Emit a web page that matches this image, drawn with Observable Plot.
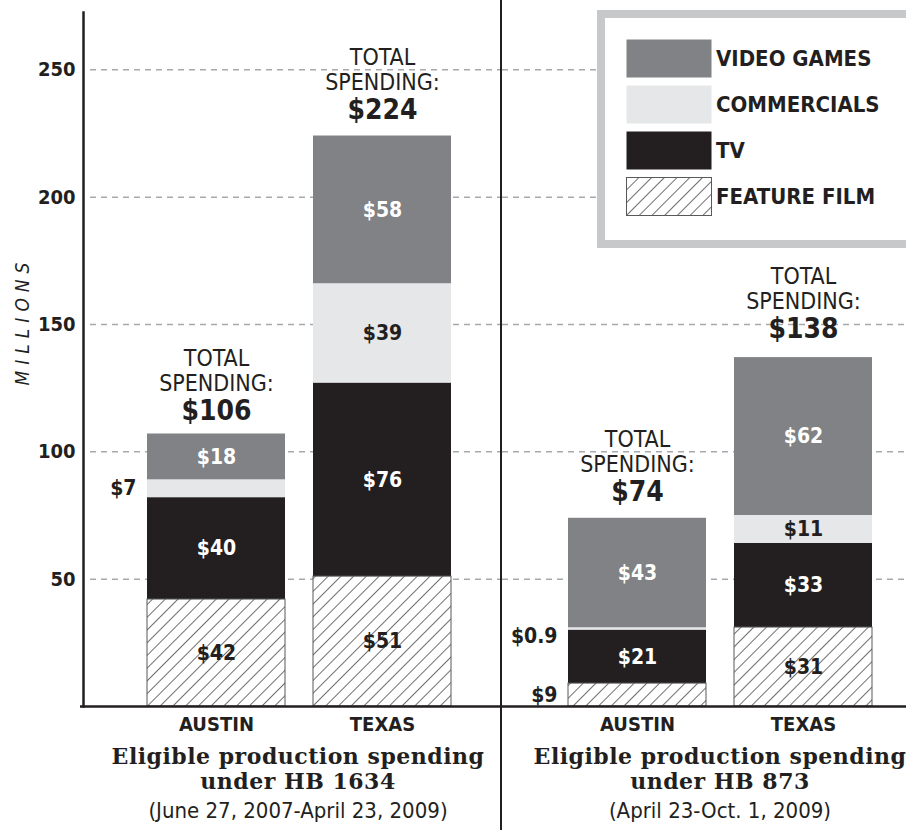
<!DOCTYPE html>
<html>
<head>
<meta charset="utf-8">
<script src="https://cdn.jsdelivr.net/npm/d3@7"></script>
<script src="https://cdn.jsdelivr.net/npm/@observablehq/plot@0.6"></script>
<style>
  :root { --cond: "Liberation Sans Narrow", "DejaVu Sans Condensed", "Roboto Condensed", "Open Sans", sans-serif; }
  body { margin: 0; background: #fff; }
  #wrap { position: relative; width: 906px; height: 830px; display: flex; overflow: hidden; color: #231f20;
          font-family: var(--cond); font-stretch: condensed; }
  .panel { position: relative; height: 830px; }
  #p1 { width: 500px; }
  #p2 { width: 404px; border-left: 2px solid #231f20; }
  .ttl { position: absolute; transform: translateX(-50%); text-align: center; white-space: nowrap; }
  .ttl .a { font-family: "DejaVu Serif", serif; font-stretch: normal; font-weight: bold; font-size: 22px; letter-spacing: 0.5px; line-height: 25px; }
  .ttl .b { font-family: var(--cond); font-stretch: condensed; font-size: 22px; line-height: 28px; margin-top: 3px; }
  #legend { position: absolute; left: 597px; top: 10px; width: 320px; height: 238px; box-sizing: border-box;
            border: 8px solid #c7c8ca; background: #fff; }
  .lg-row { position: absolute; left: 21px; height: 39px; display: flex; align-items: center; }
  .lg-sw { width: 86px; height: 39px; margin-right: 4px; box-sizing: border-box; }
  .lg-lab { font-weight: bold; font-size: 22px; white-space: nowrap; }
  #ylab { position: absolute; left: 22px; top: 321px; transform: translate(-50%, -50%) rotate(-90deg);
          font-style: italic; font-size: 19px; letter-spacing: 6px; white-space: nowrap; }
</style>
</head>
<body>
<svg width="0" height="0" style="position:absolute">
  <defs>
    <pattern id="hatch" patternUnits="userSpaceOnUse" width="9" height="9" patternTransform="rotate(45)">
      <rect width="9" height="9" fill="#fff"></rect>
      <line x1="0" y1="0" x2="0" y2="9" stroke="#231f20" stroke-width="1.3"></line>
    </pattern>
  </defs>
</svg>
<div id="wrap">
  <div class="panel" id="p1"></div>
  <div class="panel" id="p2"></div>
  <div id="legend"></div>
  <div id="ylab">MILLIONS</div>
</div>
<script>
// ---- data ----
const regions = ["AUSTIN", "TEXAS"];
const periodTitles = ["Eligible production spending", "Eligible production spending"];
const periodLaws = ["under HB 1634", "under HB 873"];
const periodDates = ["(June 27, 2007-April 23, 2009)", "(April 23-Oct. 1, 2009)"];
const categories = ["FEATURE FILM", "TV", "COMMERCIALS", "VIDEO GAMES"]; // stack order, bottom to top
const legendOrder = ["VIDEO GAMES", "COMMERCIALS", "TV", "FEATURE FILM"];
// per bar: [Austin HB 1634, Texas HB 1634, Austin HB 873, Texas HB 873] ($ millions)
const featureFilm = [42, 51, 9, 31];
const tv = [40, 76, 21, 33];
const commercials = [7, 39, 0.9, 11];
const videoGames = [18, 58, 43, 62];
const totals = [106, 224, 74, 138];
const yTicks = [50, 100, 150, 200, 250];

// ---- styles ----
const INK = "#231f20";
const COND = getComputedStyle(document.documentElement).getPropertyValue("--cond");
const catColors = {"FEATURE FILM": "url(#hatch)", "TV": INK, "COMMERCIALS": "#e6e7e8", "VIDEO GAMES": "#808285"};
const whiteText = new Set(["TV", "VIDEO GAMES"]);
const seriesValues = {"FEATURE FILM": featureFilm, "TV": tv, "COMMERCIALS": commercials, "VIDEO GAMES": videoGames};

function panel(pi, {width, marginLeft, paddingOuter, align, showY}) {
  const rows = [], tot = [];
  regions.forEach((r, ri) => {
    const i = pi * 2 + ri;
    categories.forEach(c => rows.push({region: r, category: c, value: seriesValues[c][i]}));
    tot.push({region: r, total: totals[i]});
  });
  const fmt = d => "$" + d.value;
  const txt = {fontSize: 21, fontWeight: "bold"};
  return Plot.plot({
    width, height: 740, marginLeft, marginRight: 0, marginTop: 12, marginBottom: 34,
    style: {fontFamily: COND, fontStretch: "condensed", color: INK, background: "transparent", overflow: "visible"},
    x: {domain: regions, paddingInner: 0.17, paddingOuter, align, label: null},
    y: {domain: [0, 272.5], label: null, ...(showY ? {} : {axis: null})},
    color: {domain: categories, range: categories.map(c => catColors[c])},
    marks: [
      Plot.ruleY(yTicks, {stroke: "#a7a9ac", strokeWidth: 1.5, strokeDasharray: "6,5", insetLeft: showY ? 7 : 0}),
      Plot.barY(rows, Plot.stackY({x: "region", y: "value", fill: "category"})),
      Plot.barY(rows, Plot.stackY({x: "region", y: "value", filter: d => d.category === "FEATURE FILM",
        fill: "none", stroke: "#58595b", strokeWidth: 1})),
      Plot.text(rows, Plot.stackY({x: "region", y: "value", ...txt, fill: "#fff",
        text: d => whiteText.has(d.category) && d.value >= 10 ? fmt(d) : null})),
      Plot.text(rows, Plot.stackY({x: "region", y: "value", ...txt, fill: INK,
        text: d => !whiteText.has(d.category) && d.value >= 10 ? fmt(d) : null})),
      // small segments: label outside, to the left of the bar
      Plot.text(rows, Plot.stackY({x: "region", y: "value", ...txt, fill: INK, textAnchor: "end", dx: -80,
        text: d => d.value < 10 && d.value >= 2 ? fmt(d) : null})),
      Plot.text(rows, Plot.stackY({x: "region", y: "value", ...txt, fill: INK, textAnchor: "end", dx: -80, dy: 7,
        text: d => d.value < 2 ? fmt(d) : null})),
      Plot.text(tot, {x: "region", y: "total", text: () => "TOTAL", dy: -78, fontSize: 23, fill: INK}),
      Plot.text(tot, {x: "region", y: "total", text: () => "SPENDING:", dy: -53, fontSize: 23, fill: INK}),
      Plot.text(tot, {x: "region", y: "total", text: d => "$" + d.total, dy: -26, fontSize: 28, fontWeight: "bold", fill: INK}),
      Plot.axisX({tickSize: 0, tickPadding: 10, fontSize: 20, fontWeight: "bold", label: null}),
      showY ? Plot.axisY({ticks: yTicks, tickSize: 0, tickPadding: 8, fontSize: 20, fontWeight: "bold", label: null}) : null,
      showY ? Plot.frame({anchor: "left", stroke: INK, strokeWidth: 2.5}) : null,
      Plot.ruleY([0], {stroke: INK, strokeWidth: 2.5, insetLeft: showY ? -3 : 0})
    ]
  });
}

const cfg = [
  {el: "#p1", width: 500, marginLeft: 83, paddingOuter: 0.335, align: 0.5625, showY: true, center: 298},
  {el: "#p2", width: 404, marginLeft: 0, paddingOuter: 0.30, align: 0.66, showY: false, center: 218}
];
cfg.forEach((c, pi) => {
  const host = document.querySelector(c.el);
  host.appendChild(panel(pi, c));
  const t = document.createElement("div");
  t.className = "ttl";
  t.style.left = c.center + "px";
  t.style.top = "744px";
  t.innerHTML = `<div class="a">${periodTitles[pi]}<br>${periodLaws[pi]}</div><div class="b">${periodDates[pi]}</div>`;
  host.appendChild(t);
});

// legend
const lg = d3.select("#legend");
legendOrder.forEach((c, i) => {
  const row = lg.append("div").attr("class", "lg-row").style("top", (21 + i * 46) + "px");
  const sw = row.append("svg").attr("class", "lg-sw").attr("width", 86).attr("height", 39);
  sw.append("rect").attr("x", 0.5).attr("y", 0.5).attr("width", 85).attr("height", 38)
    .attr("fill", catColors[c]).attr("stroke", c === "FEATURE FILM" ? "#58595b" : "none");
  row.append("div").attr("class", "lg-lab").text(c);
});
</script>
</body>
</html>
